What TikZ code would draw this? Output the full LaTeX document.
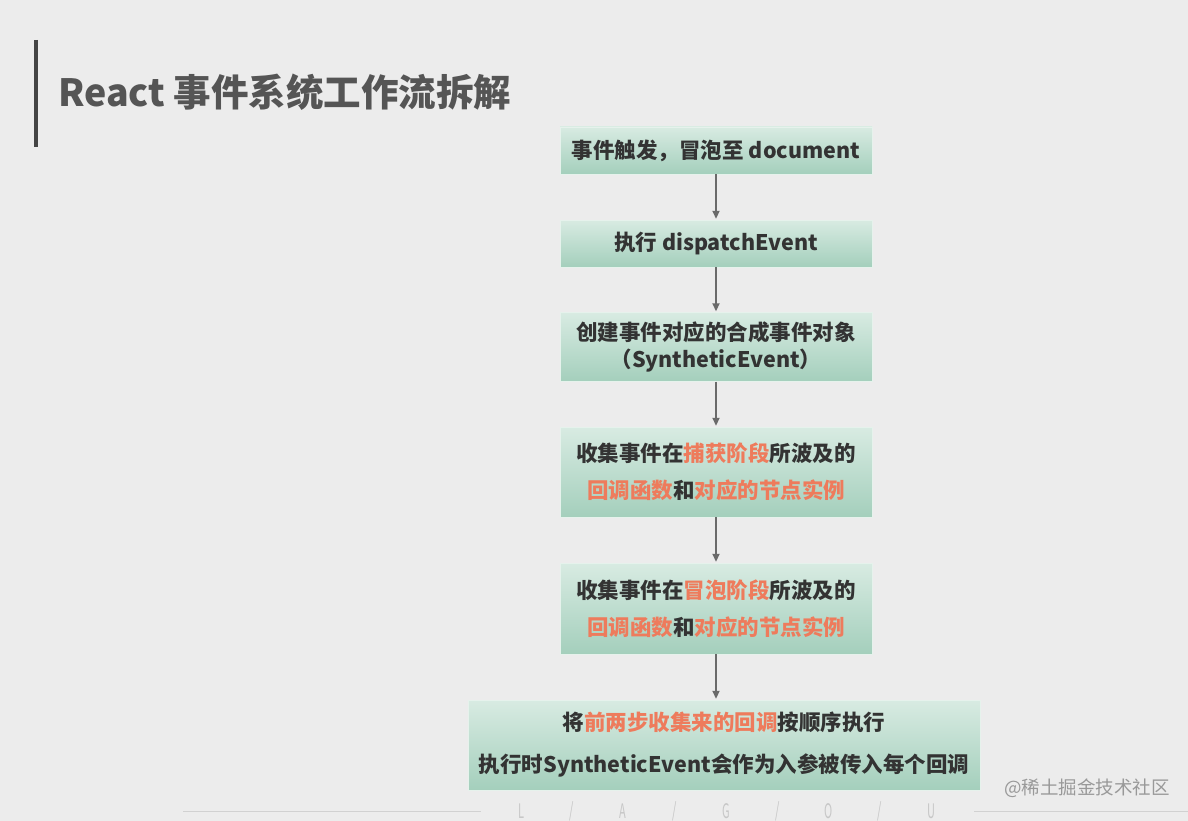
\documentclass[tikz,border=0pt]{standalone}
\usepackage{fontspec}
\setmainfont{Noto Sans CJK SC}
\usetikzlibrary{arrows.meta}
\definecolor{bg}{HTML}{ECECEC}
\definecolor{boxtop}{HTML}{D8EBE2}
\definecolor{boxbot}{HTML}{A4CFBC}
\definecolor{txt}{HTML}{333333}
\definecolor{hl}{HTML}{EE7B5C}
\definecolor{ttl}{HTML}{555555}
\definecolor{arr}{HTML}{6A6A6A}
\newcommand{\hlt}[1]{\textcolor{hl}{#1}}
\tikzset{
  stepbox/.style={draw=white!35!boxtop, line width=0.4pt, top color=boxtop, bottom color=boxbot,
    minimum width=312pt, inner sep=0pt, align=center, text=txt,
    font=\fontsize{21.5pt}{27pt}\selectfont\bfseries},
  flow/.style={draw=arr, line width=1.8pt, -{Triangle[length=8pt,width=7pt]}, shorten >=1pt}
}
\begin{document}
\begin{tikzpicture}[x=1pt,y=-1pt]
\fill[bg] (0,0) rectangle (1188,821);
\useasboundingbox (0,0) rectangle (1188,821);
% title
\draw[color=ttl!80!black, line width=3.5pt] (36,40) -- (36,147);
\node[anchor=west, inner sep=0pt, text=ttl, font=\fontsize{37.5pt}{44pt}\selectfont\bfseries] (title) at (58,92) {React 事件系统工作流拆解};
% boxes
\node[stepbox, minimum height=47pt] (b1) at (716,150.5) {事件触发，冒泡至 document};
\node[stepbox, minimum height=47pt] (b2) at (716,243.5) {执行 dispatchEvent};
\node[stepbox, minimum height=69pt] (b3) at (716,347) {创建事件对应的合成事件对象\\（SyntheticEvent）};
\node[stepbox, minimum height=90pt, font=\fontsize{21.5pt}{37pt}\selectfont\bfseries] (b4) at (716,472) {收集事件在\hlt{捕获阶段}所波及的\\\hlt{回调函数}和\hlt{对应的节点实例}};
\node[stepbox, minimum height=91pt, font=\fontsize{21.5pt}{37pt}\selectfont\bfseries] (b5) at (716,608.5) {收集事件在\hlt{冒泡阶段}所波及的\\\hlt{回调函数}和\hlt{对应的节点实例}};
\node[stepbox, minimum width=512pt, minimum height=90pt, font=\fontsize{21.5pt}{42pt}\selectfont\bfseries] (b6) at (724,745) {将\hlt{前两步收集来的回调}按顺序执行\\执行时SyntheticEvent会作为入参被传入每个回调};
% arrows
\draw[flow] (b1.south) -- (b2.north);
\draw[flow] (b2.south) -- (b3.north);
\draw[flow] (b3.south) -- (b4.north);
\draw[flow] (b4.south) -- (b5.north);
\draw[flow] (b5.south) -- (b5.south |- b6.north);
% footer
\coordinate (l1) at (183,811);
\coordinate (l2) at (481,811);
\coordinate (r1) at (974,811);
\coordinate (r2) at (1188,811);
\draw[color=black!18, line width=1pt] (l1) -- (l2);
\draw[color=black!18, line width=1pt] (r1) -- (r2);
\foreach \ch/\xx in {L/521,{/}/572,A/623,{/}/675,G/726,{/}/778,O/829,{/}/880,U/931}{
  \node[text=black!22, font=\fontsize{20pt}{20pt}\selectfont, xscale=0.55, inner sep=0pt] at (\xx,811) {\ch};
}
\node[text=black!40, font=\fontsize{18.5pt}{20pt}\selectfont, anchor=west, inner sep=0pt] (wm) at (1004,788) {@稀土掘金技术社区};
\end{tikzpicture}
\end{document}
